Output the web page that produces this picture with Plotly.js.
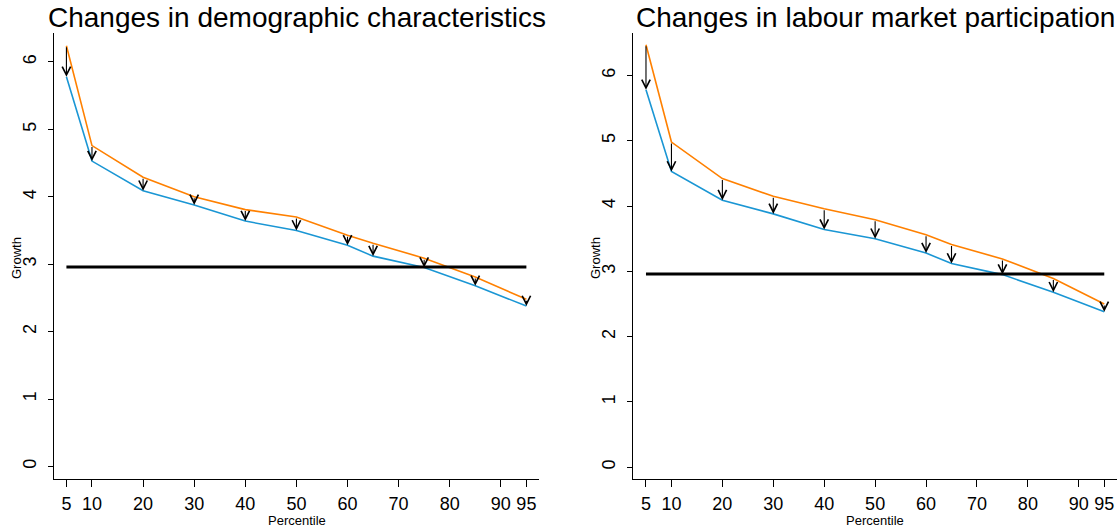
<!DOCTYPE html>
<html>
<head>
<meta charset="utf-8">
<script src="https://cdn.plot.ly/plotly-3.0.1.min.js"></script>
<style>
  html, body { margin: 0; padding: 0; background: #fff; }
  #chart { width: 1118px; height: 528px; }
</style>
</head>
<body>
<div id="chart"></div>
<script>
// Income growth by percentile, before and after each adjustment
const percentiles = [5, 10, 20, 30, 40, 50, 60, 65, 75, 85, 95];
const xTicks = [5, 10, 20, 30, 40, 50, 60, 70, 80, 90, 95];
const yTicks = [0, 1, 2, 3, 4, 5, 6];

// Growth after the adjustment (same in both panels)
const growthAdjusted = [5.78, 4.53, 4.09, 3.88, 3.64, 3.50, 3.28, 3.12, 2.95, 2.68, 2.38];
// Growth before adjusting for demographic characteristics
const growthDemographic = [6.24, 4.76, 4.29, 4.00, 3.81, 3.70, 3.43, 3.31, 3.09, 2.81, 2.48];
// Growth before adjusting for labour market participation
const growthLabour = [6.47, 4.98, 4.42, 4.15, 3.96, 3.79, 3.56, 3.41, 3.19, 2.89, 2.50];
// Average growth
const meanGrowth = 2.96;

const panelTitles = ['Changes in demographic characteristics', 'Changes in labour market participation'];

const W = 1118, H = 528;
const ORANGE = '#ff8000';
const BLUE = '#1a96d4';
const FONT = 'Liberation Sans, Arial, sans-serif';

const panels = [
  { before: growthDemographic, xd: [54, 539], xr: [2.57, 97.47], yr: [-0.186, 6.43], ax: 'x', ay: 'y' },
  { before: growthLabour, xd: [633, 1117], xr: [2.45, 97.5], yr: [-0.18, 6.65], ax: 'x2', ay: 'y2' }
];
const yDomainPx = [33, 479];

const traces = [];
const annotations = [];
const layout = {
  width: W, height: H,
  margin: { l: 0, r: 0, t: 0, b: 0 },
  paper_bgcolor: '#fff', plot_bgcolor: '#fff',
  showlegend: false,
  font: { family: FONT, color: '#000' }
};

panels.forEach((p, k) => {
  const sfx = k === 0 ? '' : '2';
  const xKey = 'xaxis' + sfx, yKey = 'yaxis' + sfx;

  layout[xKey] = {
    domain: [p.xd[0] / W, p.xd[1] / W],
    range: p.xr, anchor: p.ay,
    showline: true, linecolor: '#000', linewidth: 1,
    ticks: 'outside', ticklen: 7, tickwidth: 1, tickcolor: '#000',
    tickmode: 'array', tickvals: xTicks, ticktext: xTicks.map(String),
    ticklabelstandoff: 1,
    tickfont: { size: 18, family: FONT, color: '#000' },
    showgrid: false, zeroline: false, fixedrange: true
  };
  layout[yKey] = {
    domain: [1 - yDomainPx[1] / H, 1 - yDomainPx[0] / H],
    range: p.yr, anchor: p.ax,
    showline: true, linecolor: '#000', linewidth: 1,
    ticks: 'outside', ticklen: 5, tickwidth: 1, tickcolor: '#000',
    tickmode: 'array', tickvals: yTicks, ticktext: yTicks.map(String),
    tickangle: -90, ticklabelstandoff: 5,
    tickfont: { size: 18, family: FONT, color: '#000' },
    showgrid: false, zeroline: false, fixedrange: true
  };

  traces.push({
    x: percentiles, y: p.before, xaxis: p.ax, yaxis: p.ay,
    mode: 'lines', line: { color: ORANGE, width: 1.6 }, hoverinfo: 'skip'
  });
  traces.push({
    x: percentiles, y: growthAdjusted, xaxis: p.ax, yaxis: p.ay,
    mode: 'lines', line: { color: BLUE, width: 1.6 }, hoverinfo: 'skip'
  });
  traces.push({
    x: [percentiles[0], percentiles[percentiles.length - 1]], y: [meanGrowth, meanGrowth],
    xaxis: p.ax, yaxis: p.ay,
    mode: 'lines', line: { color: '#000', width: 3 }, hoverinfo: 'skip'
  });

  // Arrows from the unadjusted to the adjusted growth
  percentiles.forEach((pc, i) => {
    annotations.push({
      xref: p.ax, yref: p.ay, axref: p.ax, ayref: p.ay,
      x: pc, y: growthAdjusted[i], ax: pc, ay: p.before[i],
      text: '', showarrow: true, arrowhead: 5, arrowsize: 1.5, arrowwidth: 1.1,
      arrowcolor: '#000', standoff: 0, startstandoff: 0
    });
  });

  const cx = (p.xd[0] + p.xd[1]) / 2 / W;
  annotations.push({
    xref: 'paper', yref: 'paper', x: cx, y: 1 - 17 / H,
    xanchor: 'center', yanchor: 'middle', showarrow: false,
    text: panelTitles[k], font: { size: 28, family: FONT, color: '#000' }
  });
  annotations.push({
    xref: 'paper', yref: 'paper', x: cx, y: 1 - 520 / H,
    xanchor: 'center', yanchor: 'middle', showarrow: false,
    text: 'Percentile', font: { size: 13, family: FONT, color: '#000' }
  });
  annotations.push({
    xref: 'paper', yref: 'paper', x: (p.xd[0] - 38) / W, y: 1 - 258 / H,
    xanchor: 'center', yanchor: 'middle', showarrow: false, textangle: -90,
    text: 'Growth', font: { size: 13, family: FONT, color: '#000' }
  });
});

layout.annotations = annotations;

Plotly.newPlot('chart', traces, layout, { staticPlot: true, displayModeBar: false });
</script>
</body>
</html>
